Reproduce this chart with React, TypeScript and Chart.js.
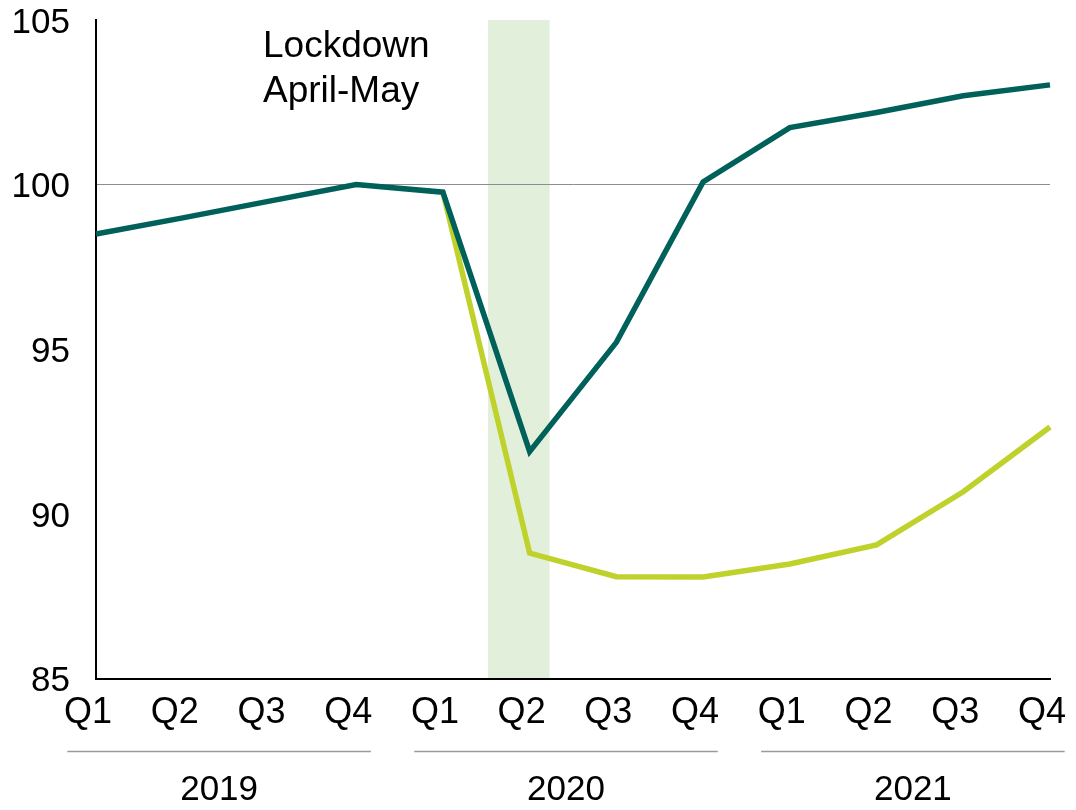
import React, { useEffect, useRef } from 'react';
import { Chart, registerables } from 'chart.js';

Chart.register(...registerables);

const quarterLabels = ['Q1', 'Q2', 'Q3', 'Q4', 'Q1', 'Q2', 'Q3', 'Q4', 'Q1', 'Q2', 'Q3', 'Q4'];
const years = ['2019', '2020', '2021'];
const darkSeries = [98.5, 98.99, 99.5, 100.0, 99.77, 91.89, 95.21, 100.08, 101.73, 102.19, 102.7, 103.03];
const lightSeries = [null, null, null, null, 99.77, 88.81, 88.09, 88.08, 88.48, 89.06, 90.67, 92.64];
const yMin = 85;
const yMax = 105;
const yStep = 5;
const lockdownStart = 4.52;
const lockdownEnd = 5.23;
const annotationLines = ['Lockdown', 'April-May'];

const DARK = '#00615a';
const LIGHT = '#bfd22b';
const BAND = '#e2efda';
const FONT = '"Liberation Sans", Arial, sans-serif';

const overlayPlugin = {
  id: 'overlay',
  beforeDraw(chart: any) {
    const { ctx, chartArea, scales } = chart;
    const x = scales.x;
    const x0 = x.getPixelForValue(lockdownStart);
    const x1 = x.getPixelForValue(lockdownEnd);
    ctx.save();
    ctx.fillStyle = BAND;
    ctx.fillRect(x0, chartArea.top, x1 - x0, chartArea.bottom - chartArea.top);
    ctx.restore();
  },
  afterDraw(chart: any) {
    const { ctx, chartArea, scales } = chart;
    const x = scales.x;
    const step = x.getPixelForValue(1) - x.getPixelForValue(0);
    ctx.save();
    ctx.fillStyle = '#000';
    ctx.font = `37px ${FONT}`;
    ctx.textAlign = 'left';
    ctx.textBaseline = 'alphabetic';
    annotationLines.forEach((t, i) => {
      ctx.fillText(t, chartArea.left + 167, chartArea.top + 37 + i * 45);
    });
    years.forEach((yr, i) => {
      const c = x.getPixelForValue(i * 4 + 1.5) - 7;
      const half = step * 1.75;
      ctx.strokeStyle = '#9a9a9a';
      ctx.lineWidth = 1.5;
      ctx.beginPath();
      const ly = chartArea.bottom + 73;
      ctx.moveTo(c - half, ly);
      ctx.lineTo(c + half, ly);
      ctx.stroke();
      ctx.fillStyle = '#000';
      ctx.font = `35px ${FONT}`;
      ctx.textAlign = 'center';
      ctx.textBaseline = 'middle';
      ctx.fillText(yr, c, chartArea.bottom + 112);
    });
    ctx.restore();
  },
};

export default function App() {
  const ref = useRef<HTMLCanvasElement | null>(null);
  useEffect(() => {
    if (!ref.current) return;
    const chart = new Chart(ref.current, {
      type: 'line',
      data: {
        labels: quarterLabels,
        datasets: [
          {
            data: darkSeries,
            borderColor: DARK,
            borderWidth: 5.5,
            pointRadius: 0,
            tension: 0,
            fill: false,
          },
          {
            data: lightSeries as any,
            borderColor: LIGHT,
            borderWidth: 5.5,
            pointRadius: 0,
            tension: 0,
            fill: false,
            spanGaps: false,
          },
        ],
      },
      options: {
        animation: false,
        responsive: false,
        devicePixelRatio: 1,
        layout: { padding: { left: 0, right: 26, top: 20, bottom: 0 } },
        plugins: { legend: { display: false }, tooltip: { enabled: false } },
        scales: {
          x: {
            type: 'category',
            offset: false,
            grid: { display: true, color: 'rgba(0,0,0,0)', drawTicks: false },
            border: { display: true, color: '#000', width: 2 },
            ticks: {
              color: '#000',
              font: { family: FONT, size: 36 },
              padding: 13,
              labelOffset: -8,
              maxRotation: 0,
              autoSkip: false,
            },
            afterFit(scale: any) {
              scale.height = 131.5;
              scale.paddingLeft = 0;
              scale.paddingRight = 0;
            },
          },
          y: {
            min: yMin,
            max: yMax,
            grid: {
              display: true,
              drawTicks: false,
              color: (ctx: any) => (ctx.tick && ctx.tick.value === 100 ? '#8a8d91' : 'rgba(0,0,0,0)'),
              lineWidth: 1,
            },
            border: { display: true, color: '#000', width: 2 },
            ticks: {
              stepSize: yStep,
              color: '#000',
              font: { family: FONT, size: 35 },
              padding: 26,
              labelOffset: 3,
            },
            afterFit(scale: any) {
              scale.width = 96;
              scale.paddingTop = 0;
              scale.paddingBottom = 0;
            },
          },
        },
      },
      plugins: [overlayPlugin],
    });
    return () => chart.destroy();
  }, []);
  return (
    <div style={{ position: 'absolute', left: 0, top: 0, width: 1076, height: 810, background: '#fff' }}>
      <canvas ref={ref} width={1076} height={810} />
    </div>
  );
}
